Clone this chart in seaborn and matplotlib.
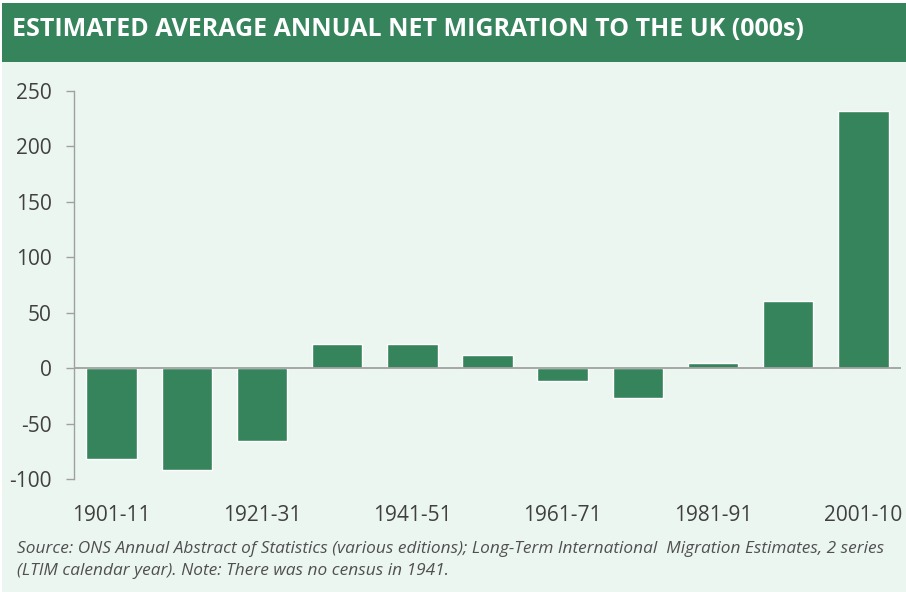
import matplotlib
matplotlib.use("Agg")
import matplotlib.pyplot as plt
import seaborn as sns
import pandas as pd

# Decade periods and estimated average annual net migration (thousands)
periods = ["1901-11", "1911-21", "1921-31", "1931-41", "1941-51", "1951-61",
           "1961-71", "1971-81", "1981-91", "1991-01", "2001-10"]
net_migration = [-82, -92, -66, 22, 22, 12, -12, -27, 5, 61, 232]
shown_labels = ["1901-11", "1921-31", "1941-51", "1961-71", "1981-91", "2001-10"]
y_ticks = [-100, -50, 0, 50, 100, 150, 200, 250]

title = "ESTIMATED AVERAGE ANNUAL NET MIGRATION TO THE UK (000s)"
source = ("Source: ONS Annual Abstract of Statistics (various editions); Long-Term International  Migration Estimates, 2 series\n"
          "(LTIM calendar year). Note: There was no census in 1941.")

GREEN = "#36845C"
BG = "#ECF6F1"
TEXT = "#404040"

sns.set_theme(style="white")
plt.rcParams["font.family"] = ["Open Sans", "DejaVu Sans"]

df = pd.DataFrame({"period": periods, "value": net_migration})

fig = plt.figure(figsize=(9.06, 5.92), dpi=100)
fig.patch.set_facecolor("white")

# page background and header band
fig.patches.append(plt.Rectangle((2 / 906, 0), 1, 1 - 3 / 592, transform=fig.transFigure,
                                 facecolor=BG, edgecolor="none", zorder=-10))
fig.patches.append(plt.Rectangle((2 / 906, 1 - 62 / 592), 1, (62 - 3) / 592,
                                 transform=fig.transFigure, facecolor=GREEN,
                                 edgecolor="none", zorder=-5))
fig.text(12 / 906, 1 - 29 / 592, title, color="white", fontsize=18, fontweight="bold",
         ha="left", va="center")

ax = fig.add_axes([74 / 906, 113 / 592, 827 / 906, 388 / 592])
ax.set_facecolor("none")
sns.barplot(data=df, x="period", y="value", color=GREEN, saturation=1, width=0.67,
            ax=ax, zorder=3)

ax.set_ylim(-100, 250)
ax.set_xlim(-0.5, len(periods) - 0.5)
ax.axhline(0, color="#A0A0A0", lw=1.3, zorder=4)

ax.set_yticks(y_ticks)
ax.set_yticklabels([str(v) for v in y_ticks], fontsize=15, color=TEXT)
ax.tick_params(axis="y", length=6, width=1, color="#A0A0A0", pad=10, left=True)
ax.set_xticks([periods.index(p) for p in shown_labels])
ax.set_xticklabels(shown_labels, fontsize=15, color=TEXT)
ax.tick_params(axis="x", length=0, pad=19)
ax.set_xlabel("")
ax.set_ylabel("")

for s in ["top", "right", "bottom"]:
    ax.spines[s].set_visible(False)
ax.spines["left"].set_color("#A0A0A0")
ax.spines["left"].set_linewidth(1)

fig.text(17 / 906, 1 - 560 / 592, source, color="#505050", fontsize=12.4,
         fontstyle="italic", ha="left", va="center", linespacing=1.5)

fig.savefig("out.png", dpi=100, facecolor=fig.get_facecolor())
